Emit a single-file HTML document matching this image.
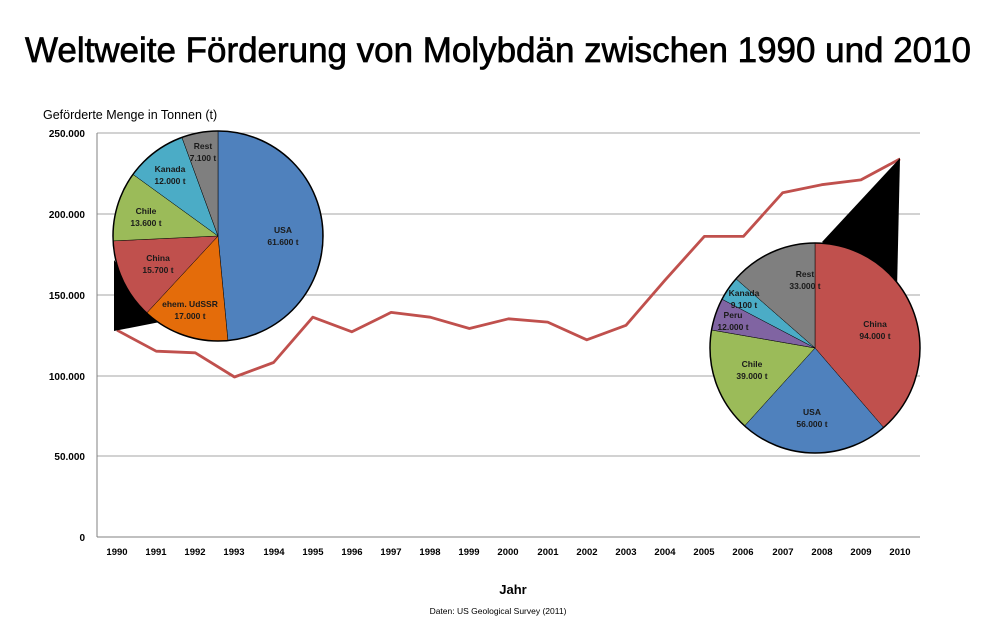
<!DOCTYPE html>
<html><head><meta charset="utf-8"><style>
body{margin:0;background:#fff;}
svg{display:block;font-family:"Liberation Sans",Arial,sans-serif;}
</style></head><body>
<svg width="1000" height="625" viewBox="0 0 1000 625">
<text x="498" y="62" font-size="35" text-anchor="middle" textLength="946" lengthAdjust="spacingAndGlyphs" stroke="#000" stroke-width="0.7">Weltweite Förderung von Molybdän zwischen 1990 und 2010</text>
<text x="43" y="119" font-size="12.5">Geförderte Menge in Tonnen (t)</text>
<g stroke="#a6a6a6" stroke-width="1">
<line x1="97" y1="133" x2="920" y2="133"/><line x1="97" y1="214" x2="920" y2="214"/>
<line x1="97" y1="295" x2="920" y2="295"/><line x1="97" y1="376" x2="920" y2="376"/>
<line x1="97" y1="456" x2="920" y2="456"/>
</g>
<g stroke="#808080" stroke-width="1">
<line x1="97" y1="537" x2="920" y2="537"/><line x1="97" y1="133" x2="97" y2="537"/>
</g>
<g font-size="10" font-weight="bold" text-anchor="end">
<text x="85" y="137">250.000</text><text x="85" y="218">200.000</text><text x="85" y="299">150.000</text>
<text x="85" y="380">100.000</text><text x="85" y="460">50.000</text><text x="85" y="541">0</text>
</g>
<g font-size="9.5" font-weight="bold" text-anchor="middle">
<text x="117" y="555">1990</text><text x="156" y="555">1991</text><text x="195" y="555">1992</text><text x="234" y="555">1993</text><text x="274" y="555">1994</text><text x="313" y="555">1995</text><text x="352" y="555">1996</text><text x="391" y="555">1997</text><text x="430" y="555">1998</text><text x="469" y="555">1999</text><text x="508" y="555">2000</text><text x="548" y="555">2001</text><text x="587" y="555">2002</text><text x="626" y="555">2003</text><text x="665" y="555">2004</text><text x="704" y="555">2005</text><text x="743" y="555">2006</text><text x="783" y="555">2007</text><text x="822" y="555">2008</text><text x="861" y="555">2009</text><text x="900" y="555">2010</text>
</g>
<text x="513" y="594" font-size="13" font-weight="bold" text-anchor="middle">Jahr</text>
<text x="498" y="614" font-size="8.5" text-anchor="middle">Daten: US Geological Survey (2011)</text>
<polyline fill="none" stroke="#c0504d" stroke-width="2.8" stroke-linejoin="round" points="117,330.2 156.2,351.2 195.3,352.8 234.5,377 273.6,362.5 312.8,317.2 351.9,331.8 391.1,312.4 430.2,317.2 469.4,328.5 508.5,318.8 547.7,322.1 586.8,339.8 626,325.3 665.1,280.1 704.3,236.4 743.4,236.4 782.6,192.8 821.7,184.7 860.9,179.9 900,158.9"/>
<polygon points="114,331 114,260 160,322" fill="#000"/>
<polygon points="900,158 822,242 897,290" fill="#000"/>
<g stroke="#000" stroke-width="0.5">
<path d="M218,236 L218,131 A105,105 0 0 1 227.9,340.5 Z" fill="#4f81bd"/>
<path d="M218,236 L227.9,340.5 A105,105 0 0 1 146.7,313 Z" fill="#e46c0a"/>
<path d="M218,236 L146.7,313 A105,105 0 0 1 113.1,240.9 Z" fill="#c0504d"/>
<path d="M218,236 L113.1,240.9 A105,105 0 0 1 133,174.4 Z" fill="#9bbb59"/>
<path d="M218,236 L133,174.4 A105,105 0 0 1 181.9,137.4 Z" fill="#4bacc6"/>
<path d="M218,236 L181.9,137.4 A105,105 0 0 1 218,131 Z" fill="#7f7f7f"/>
</g>
<circle cx="218" cy="236" r="105" fill="none" stroke="#000" stroke-width="1.5"/>
<g font-size="8.5" font-weight="bold" text-anchor="middle" fill="#1a1a1a">
<text x="283" y="233">USA</text><text x="283" y="245">61.600 t</text>
<text x="190" y="307">ehem. UdSSR</text><text x="190" y="319">17.000 t</text>
<text x="158" y="261">China</text><text x="158" y="273">15.700 t</text>
<text x="146" y="214">Chile</text><text x="146" y="226">13.600 t</text>
<text x="170" y="172">Kanada</text><text x="170" y="184">12.000 t</text>
<text x="203" y="149">Rest</text><text x="203" y="161">7.100 t</text>
</g>
<g stroke="#000" stroke-width="0.5">
<path d="M815,348 L815,243 A105,105 0 0 1 883.6,427.5 Z" fill="#c0504d"/>
<path d="M815,348 L883.6,427.5 A105,105 0 0 1 744.6,425.9 Z" fill="#4f81bd"/>
<path d="M815,348 L744.6,425.9 A105,105 0 0 1 711.6,330 Z" fill="#9bbb59"/>
<path d="M815,348 L711.6,330 A105,105 0 0 1 722,299.2 Z" fill="#8064a2"/>
<path d="M815,348 L722,299.2 A105,105 0 0 1 736,278.8 Z" fill="#4bacc6"/>
<path d="M815,348 L736,278.8 A105,105 0 0 1 815,243 Z" fill="#7f7f7f"/>
</g>
<circle cx="815" cy="348" r="105" fill="none" stroke="#000" stroke-width="1.5"/>
<g font-size="8.5" font-weight="bold" text-anchor="middle" fill="#1a1a1a">
<text x="875" y="327">China</text><text x="875" y="339">94.000 t</text>
<text x="812" y="415">USA</text><text x="812" y="427">56.000 t</text>
<text x="752" y="367">Chile</text><text x="752" y="379">39.000 t</text>
<text x="733" y="318">Peru</text><text x="733" y="330">12.000 t</text>
<text x="744" y="296">Kanada</text><text x="744" y="308">9.100 t</text>
<text x="805" y="277">Rest</text><text x="805" y="289">33.000 t</text>
</g>
</svg>
</body></html>
